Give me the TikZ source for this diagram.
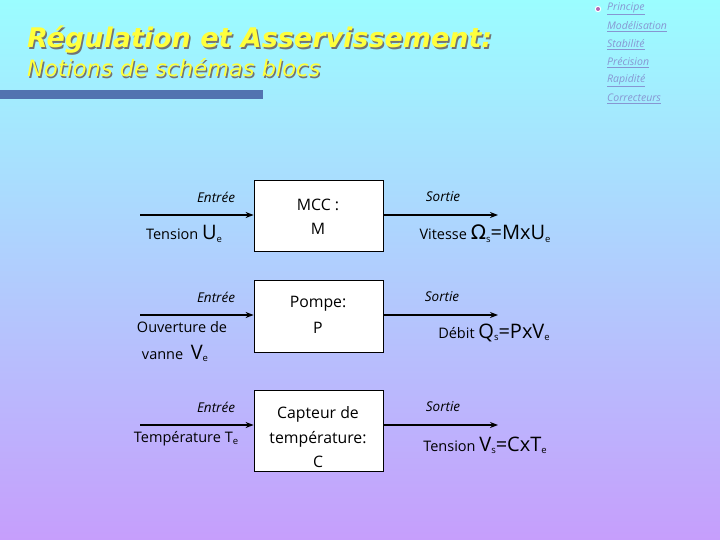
\documentclass[tikz,border=0pt]{standalone}
\usepackage{fontspec}
\setmainfont{Open Sans}
\newfontfamily\titlefont{DejaVu Sans}
\usetikzlibrary{arrows.meta}
\definecolor{bgtop}{RGB}{155,253,255}
\definecolor{bgbot}{RGB}{198,158,252}
\definecolor{titleyellow}{RGB}{255,255,60}
\definecolor{barblue}{RGB}{82,115,176}
\definecolor{menucol}{RGB}{135,150,210}
\newcommand{\mysub}[1]{\raisebox{-0.35ex}{\fontsize{9.5}{9.5}\selectfont #1}}
\newcommand{\mybig}[1]{{\fontsize{20}{20}\selectfont #1}}
\begin{document}
\begin{tikzpicture}[x=1pt,y=-1pt,
  blockbox/.style={draw=black,line width=0.8pt,fill=white},
  lbl/.style={font=\fontsize{14.5}{16}\selectfont,inner sep=0pt},
  io/.style={font=\fontsize{13.5}{15}\selectfont\itshape,inner sep=0pt},
  boxtxt/.style={font=\fontsize{15.8}{18}\selectfont,inner sep=0pt,align=center},
  arr/.style={-{Stealth[length=8pt,width=6pt]},line width=1.3pt},
  menu/.style={font=\fontsize{10.5}{12}\selectfont\itshape,text=menucol,anchor=west,inner sep=0pt}]
\shade[top color=bgtop,bottom color=bgbot] (0,0) rectangle (720,540);
\useasboundingbox (0,0) rectangle (720,540);
% title
\node[anchor=base west,inner sep=0pt,text=black!55,font=\titlefont\fontsize{27}{29}\selectfont\bfseries\itshape] at (28.5,49.5) {Régulation et Asservissement:};
\node (title)[anchor=base west,inner sep=0pt,text=titleyellow,font=\titlefont\fontsize{27}{29}\selectfont\bfseries\itshape] at (27,48) {Régulation et Asservissement:};
\node[anchor=base west,inner sep=0pt,text=black!55,font=\titlefont\fontsize{22.5}{24}\selectfont\itshape] at (28.3,78.3) {Notions de schémas blocs};
\node (subtitle)[anchor=base west,inner sep=0pt,text=titleyellow,font=\titlefont\fontsize{22.5}{24}\selectfont\itshape] at (27,77) {Notions de schémas blocs};
\fill[barblue] (0,90) rectangle (263,99);
% menu
\fill[white] (598,9) circle (3.2pt);
\fill[violet!60] (598,9) circle (2pt);
\node (m1)[menu] at (607,9) {\underline{Principe}};
\node (m2)[menu] at (607,27) {\underline{Modélisation}};
\node (m3)[menu] at (607,45) {\underline{Stabilité}};
\node (m4)[menu] at (607,63) {\underline{Précision}};
\node (m5)[menu] at (607,81) {\underline{Rapidité}};
\node (m6)[menu] at (607,99) {\underline{Correcteurs}};
% block 1
\node (b1)[blockbox,minimum width=129pt,minimum height=71pt] at (318.5,215.5) {};
\node[boxtxt] at (318,205) {MCC :};
\node[boxtxt] at (318,229) {M};
\coordinate (i1) at (140,215);
\coordinate (o1) at (498,215);
\draw[arr] (i1) -- (b1.west |- i1);
\draw[arr] (b1.east |- o1) -- (o1);
\node[io] at (216,197) {Entrée};
\node[io] at (443,197) {Sortie};
\node[lbl,anchor=base] at (184,240) {Tension \mybig{U}\mysub{e}};
\node[lbl,anchor=base] at (485,240) {Vitesse \mybig{\titlefont Ω}\mysub{s}\mybig{=MxU}\mysub{e}};
% block 2
\node (b2)[blockbox,minimum width=129pt,minimum height=72pt] at (318.5,316) {};
\node[boxtxt] at (318,304) {Pompe:};
\node[boxtxt] at (318,328) {P};
\coordinate (i2) at (140,315);
\coordinate (o2) at (498,315);
\draw[arr] (i2) -- (b2.west |- i2);
\draw[arr] (b2.east |- o2) -- (o2);
\node[io] at (216,297) {Entrée};
\node[io] at (442,297) {Sortie};
\node[lbl,anchor=base] at (182,332) {Ouverture de};
\node[lbl,anchor=base] at (175,359) {vanne \ \mybig{V}\mysub{e}};
\node[lbl,anchor=base] at (494,338) {Débit \mybig{Q}\mysub{s}\mybig{=PxV}\mysub{e}};
% block 3
\node (b3)[blockbox,minimum width=129pt,minimum height=81pt] at (318.5,430.5) {};
\node[boxtxt] at (318,414) {Capteur de};
\node[boxtxt] at (318,439) {température:};
\node[boxtxt] at (318,462) {C};
\coordinate (i3) at (140,425);
\coordinate (o3) at (498,425);
\draw[arr] (i3) -- (b3.west |- i3);
\draw[arr] (b3.east |- o3) -- (o3);
\node[io] at (216,407) {Entrée};
\node[io] at (443,407) {Sortie};
\node[lbl,anchor=base] at (186,442) {Température T\mysub{e}};
\node[lbl,anchor=base] at (485,451) {Tension \mybig{V}\mysub{s}\mybig{=CxT}\mysub{e}};
\end{tikzpicture}
\end{document}
